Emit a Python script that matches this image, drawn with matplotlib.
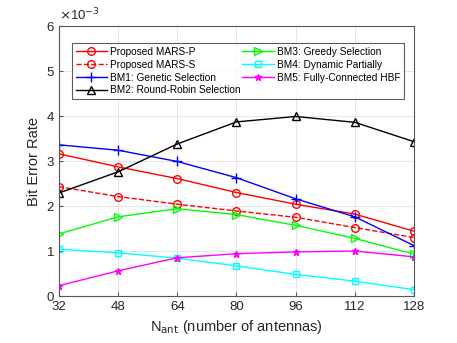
import matplotlib.pyplot as plt

plt.rcParams['font.family'] = ['Liberation Sans', 'DejaVu Sans']

n_ant = [32, 48, 64, 80, 96, 112, 128]

# BER values in units of 1e-3
mars_p = [3.16, 2.87, 2.61, 2.30, 2.04, 1.82, 1.44]
mars_s = [2.43, 2.21, 2.04, 1.89, 1.75, 1.52, 1.30]
bm1 = [3.36, 3.24, 2.99, 2.63, 2.16, 1.76, 1.12]
bm2 = [2.29, 2.76, 3.38, 3.87, 3.99, 3.86, 3.43]
bm3 = [1.38, 1.76, 1.94, 1.81, 1.57, 1.28, 0.93]
bm4 = [1.04, 0.96, 0.84, 0.67, 0.48, 0.33, 0.14]
bm5 = [0.23, 0.56, 0.85, 0.94, 0.98, 1.00, 0.87]

labels = ['Proposed MARS-P', 'Proposed MARS-S', 'BM1: Genetic Selection',
          'BM2: Round-Robin Selection', 'BM3: Greedy Selection',
          'BM4: Dynamic Partially', 'BM5: Fully-Connected HBF']

fig = plt.figure(figsize=(4.57, 3.43), dpi=100)
ax = fig.add_axes([0.129, 0.137, 0.777, 0.787])

lw = 1.0
ms = 5.5
ax.plot(n_ant, mars_p, '-o', color='red', lw=lw, ms=ms, mfc='none', label=labels[0])
ax.plot(n_ant, mars_s, '--o', color='red', lw=lw, ms=ms, mfc='none', label=labels[1])
ax.plot(n_ant, bm1, '-+', color='blue', lw=lw, ms=ms + 1, mew=1.0, label=labels[2])
ax.plot(n_ant, bm2, '-^', color='black', lw=lw, ms=ms, mfc='none', label=labels[3])
ax.plot(n_ant, bm3, '->', color='#00ff00', lw=lw, ms=ms, mfc='none', label=labels[4])
ax.plot(n_ant, bm4, '-s', color='cyan', lw=lw, ms=ms - 0.5, mfc='none', label=labels[5])
ax.plot(n_ant, bm5, '-*', color='magenta', lw=lw, ms=ms - 0.5, label=labels[6])

ax.set_xlim(32, 128)
ax.set_ylim(0, 6)
ax.set_xticks(n_ant)
ax.set_yticks(range(0, 7))
ax.tick_params(labelsize=9.5, direction='in', length=3, color='#555555', colors='#262626')
ax.grid(True, color='#e6e6e6', lw=0.7)
for s in ax.spines.values():
    s.set_color('#555555')
    s.set_linewidth(0.8)

ax.set_xlabel('N$_{\\mathrm{ant}}$ (number of antennas)', fontsize=10.5, color='#262626')
ax.set_ylabel('Bit Error Rate', fontsize=10.5, color='#262626')
ax.text(0.0, 1.01, '$\\times$10$^{-3}$', transform=ax.transAxes, fontsize=9.5,
        color='#262626', ha='left', va='bottom')

leg = ax.legend(ncol=2, loc='upper left', bbox_to_anchor=(0.037, 0.936), fontsize=7.3,
                frameon=True, fancybox=False, edgecolor='#333333', handlelength=3.1,
                columnspacing=0.15, labelspacing=0.28, handletextpad=0.3,
                borderpad=0.35, borderaxespad=0.0)
leg.get_frame().set_linewidth(0.8)

fig.savefig('out.png', dpi=100)
